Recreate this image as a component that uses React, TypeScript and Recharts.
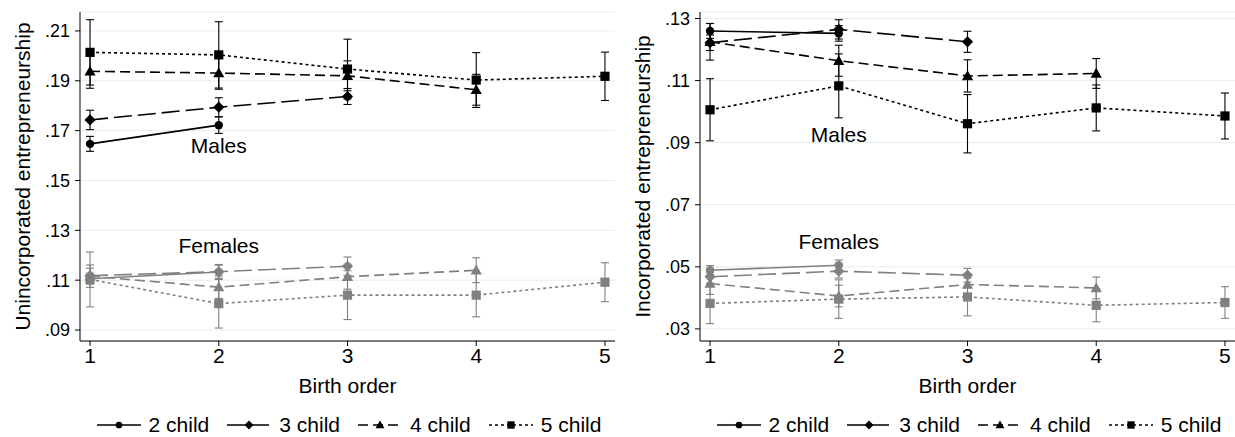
import React from 'react';
import {
  ComposedChart,
  Line,
  XAxis,
  YAxis,
  CartesianGrid,
  ErrorBar,
  Legend,
  ReferenceDot,
  Label,
} from 'recharts';

const birthOrder = [1, 2, 3, 4, 5];
const seriesNames = ['2 child', '3 child', '4 child', '5 child'];

// Unincorporated entrepreneurship, males
const uncMale2 = [0.1647, 0.1722];
const uncMale2Err = [0.003, 0.0033];
const uncMale3 = [0.1743, 0.1794, 0.1837];
const uncMale3Err = [0.0039, 0.0038, 0.0032];
const uncMale4 = [0.1938, 0.1931, 0.192, 0.1864];
const uncMale4Err = [0.0068, 0.0065, 0.006, 0.0062];
const uncMale5 = [0.2014, 0.2004, 0.1947, 0.1903, 0.1918];
const uncMale5Err = [0.0131, 0.0133, 0.012, 0.011, 0.0097];

// Unincorporated entrepreneurship, females
const uncFemale2 = [0.1106, 0.1133];
const uncFemale2Err = [0.0022, 0.003];
const uncFemale3 = [0.1118, 0.1134, 0.1156];
const uncFemale3Err = [0.003, 0.0026, 0.0037];
const uncFemale4 = [0.1116, 0.1072, 0.1114, 0.114];
const uncFemale4Err = [0.0045, 0.0045, 0.005, 0.005];
const uncFemale5 = [0.1103, 0.1006, 0.104, 0.104, 0.1092];
const uncFemale5Err = [0.011, 0.0098, 0.0098, 0.0087, 0.0078];

// Incorporated entrepreneurship, males
const incMale2 = [0.126, 0.1252];
const incMale2Err = [0.0024, 0.0025];
const incMale3 = [0.1222, 0.1265, 0.1225];
const incMale3Err = [0.0025, 0.0031, 0.0034];
const incMale4 = [0.1225, 0.1164, 0.1115, 0.1123];
const incMale4Err = [0.0059, 0.005, 0.0052, 0.0048];
const incMale5 = [0.1006, 0.1083, 0.0961, 0.1012, 0.0986];
const incMale5Err = [0.01, 0.0103, 0.0094, 0.0074, 0.0074];

// Incorporated entrepreneurship, females
const incFemale2 = [0.0489, 0.0505];
const incFemale2Err = [0.0015, 0.0017];
const incFemale3 = [0.0468, 0.0486, 0.0473];
const incFemale3Err = [0.0022, 0.0022, 0.0022];
const incFemale4 = [0.0446, 0.0406, 0.0443, 0.0432];
const incFemale4Err = [0.0035, 0.0035, 0.0035, 0.0035];
const incFemale5 = [0.0382, 0.0396, 0.0403, 0.0376, 0.0385];
const incFemale5Err = [0.0065, 0.0062, 0.0061, 0.0053, 0.0051];

const uncTicks = [0.09, 0.11, 0.13, 0.15, 0.17, 0.19, 0.21];
const incTicks = [0.03, 0.05, 0.07, 0.09, 0.11, 0.13];

// where the group labels sit, in data units [birth order, value]
const uncMalesLabel = [2, 0.164];
const uncFemalesLabel = [2, 0.1237];
const incMalesLabel = [2, 0.0925];
const incFemalesLabel = [2, 0.0581];

const BLACK = '#000000';
const GRAY = '#808080';
const dashes = [undefined, '18 6', '10 5', '3 3'];
const shapes = ['circle', 'diamond', 'triangle', 'square'];

type Pt = { x: number; y: number; err: number };

const toPoints = (vals: number[], errs: number[]): Pt[] =>
  vals.map((y, i) => ({ x: birthOrder[i], y, err: errs[i] }));

function Marker({ cx, cy, shape, color, s = 1 }: { cx?: number; cy?: number; shape: string; color: string; s?: number }) {
  if (cx == null || cy == null) return null;
  if (shape === 'circle') return <circle cx={cx} cy={cy} r={4.2 * s} fill={color} />;
  if (shape === 'diamond') {
    const d = 5.6 * s;
    return <polygon points={`${cx},${cy - d} ${cx + d},${cy} ${cx},${cy + d} ${cx - d},${cy}`} fill={color} />;
  }
  if (shape === 'triangle') {
    const d = 5.6 * s;
    return <polygon points={`${cx},${cy - d} ${cx + d},${cy + d * 0.75} ${cx - d},${cy + d * 0.75}`} fill={color} />;
  }
  const h = 4.6 * s;
  return <rect x={cx - h} y={cy - h} width={h * 2} height={h * 2} fill={color} />;
}

const fmt = (v: number) => v.toFixed(2).slice(1);

const renderLegend = () => (
  <div
    style={{
      display: 'flex',
      justifyContent: 'center',
      alignItems: 'center',
      fontSize: 21,
      color: BLACK,
      gap: 18,
      lineHeight: '26px',
    }}
  >
    {seriesNames.map((n, i) => (
      <div key={n} style={{ display: 'flex', alignItems: 'center' }}>
        <svg width={44} height={14}>
          <line x1={0} y1={7} x2={44} y2={7} stroke={BLACK} strokeWidth={1.6} strokeDasharray={dashes[i]} />
          <Marker cx={22} cy={7} shape={shapes[i]} color={BLACK} s={0.8} />
        </svg>
        <span style={{ marginLeft: 8 }}>{n}</span>
      </div>
    ))}
  </div>
);

interface PanelProps {
  yLabel: string;
  domain: [number, number];
  ticks: number[];
  males: Pt[][];
  females: Pt[][];
  malesAt: number[];
  femalesAt: number[];
}

function Panel({ yLabel, domain, ticks, males, females, malesAt, femalesAt }: PanelProps) {
  const lines = (group: Pt[][], color: string, tag: string) =>
    group
      .map((pts, i) => (
        <Line
          key={`${tag}-${i}`}
          data={pts}
          dataKey="y"
          stroke={color}
          strokeWidth={1.6}
          strokeDasharray={dashes[i]}
          dot={(p: any) => <Marker key={`${tag}-${i}-${p.index}`} cx={p.cx} cy={p.cy} shape={shapes[i]} color={color} />}
          activeDot={false}
          isAnimationActive={false}
          legendType="none"
        >
          <ErrorBar dataKey="err" direction="y" width={4} stroke={color} strokeWidth={1.1} isAnimationActive={false} />
        </Line>
      ))
      .reverse();

  return (
    <ComposedChart width={615} height={437} margin={{ top: 12, right: 0, bottom: 36, left: 0 }}>
      <CartesianGrid vertical={false} stroke="#e3eef0" />
      <XAxis
        type="number"
        dataKey="x"
        domain={[0.922, 5.078]}
        ticks={birthOrder}
        allowDataOverflow
        height={60}
        tickSize={5}
        tickMargin={2}
        stroke={BLACK}
        tick={{ fontSize: 21, fill: BLACK }}
      >
        <Label
          content={(props: any) => {
            const { x, y, width } = props.viewBox;
            return (
              <text x={x + width / 2} y={y + 52} textAnchor="middle" fontSize={21} fill={BLACK}>
                Birth order
              </text>
            );
          }}
        />
      </XAxis>
      <YAxis
        type="number"
        domain={domain}
        ticks={ticks}
        allowDataOverflow
        width={80}
        tickSize={5}
        tickMargin={5}
        stroke={BLACK}
        tickFormatter={fmt}
        tick={{ fontSize: 18, fill: BLACK }}
      >
        <Label
          content={(props: any) => {
            const { x, y, height } = props.viewBox;
            const cx = x + 30;
            const cy = y + height / 2;
            return (
              <text x={cx} y={cy} transform={`rotate(-90, ${cx}, ${cy})`} textAnchor="middle" fontSize={21} fill={BLACK}>
                {yLabel}
              </text>
            );
          }}
        />
      </YAxis>
      {lines(females, GRAY, 'f')}
      {lines(males, BLACK, 'm')}
      <ReferenceDot
        x={malesAt[0]}
        y={malesAt[1]}
        r={0}
        stroke="none"
        label={{ value: 'Males', position: 'center', fontSize: 21, fill: BLACK }}
      />
      <ReferenceDot
        x={femalesAt[0]}
        y={femalesAt[1]}
        r={0}
        stroke="none"
        label={{ value: 'Females', position: 'center', fontSize: 21, fill: BLACK }}
      />
      <Legend
        content={renderLegend}
        layout="horizontal"
        verticalAlign="middle"
        align="center"
        wrapperStyle={{ top: 412, left: 0, width: 698, height: 26 }}
      />
    </ComposedChart>
  );
}

export default function App() {
  const uncMales = [
    toPoints(uncMale2, uncMale2Err),
    toPoints(uncMale3, uncMale3Err),
    toPoints(uncMale4, uncMale4Err),
    toPoints(uncMale5, uncMale5Err),
  ];
  const uncFemales = [
    toPoints(uncFemale2, uncFemale2Err),
    toPoints(uncFemale3, uncFemale3Err),
    toPoints(uncFemale4, uncFemale4Err),
    toPoints(uncFemale5, uncFemale5Err),
  ];
  const incMales = [
    toPoints(incMale2, incMale2Err),
    toPoints(incMale3, incMale3Err),
    toPoints(incMale4, incMale4Err),
    toPoints(incMale5, incMale5Err),
  ];
  const incFemales = [
    toPoints(incFemale2, incFemale2Err),
    toPoints(incFemale3, incFemale3Err),
    toPoints(incFemale4, incFemale4Err),
    toPoints(incFemale5, incFemale5Err),
  ];

  return (
    <div
      style={{
        position: 'absolute',
        left: 0,
        top: 0,
        width: 1235,
        height: 437,
        background: '#fff',
        fontFamily: '"Liberation Sans", Arial, sans-serif',
      }}
    >
      <div style={{ position: 'absolute', left: 0, top: 0 }}>
        <Panel
          yLabel="Unincorporated entrepreneurship"
          domain={[0.0856, 0.2176]}
          ticks={uncTicks}
          males={uncMales}
          females={uncFemales}
          malesAt={uncMalesLabel}
          femalesAt={uncFemalesLabel}
        />
      </div>
      <div style={{ position: 'absolute', left: 620, top: 0 }}>
        <Panel
          yLabel="Incorporated entrepreneurship"
          domain={[0.0261, 0.1321]}
          ticks={incTicks}
          males={incMales}
          females={incFemales}
          malesAt={incMalesLabel}
          femalesAt={incFemalesLabel}
        />
      </div>
    </div>
  );
}
